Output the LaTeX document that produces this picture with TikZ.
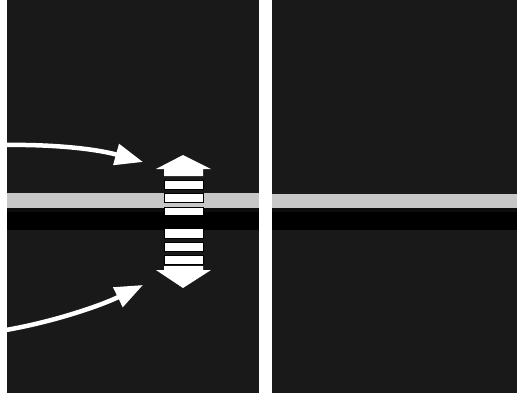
\documentclass[tikz,border=0pt]{standalone}
\usetikzlibrary{arrows.meta}
\begin{document}
\begin{tikzpicture}[x=1pt, y=-1pt,
        panel/.style={fill=black!90},
        lightband/.style={fill=black!22},
        darkband/.style={fill=black},
        seg/.style={fill=white, draw=black, line width=0.6pt},
        pointer/.style={draw=white, line width=4.5pt, -{Triangle[length=28pt, width=21pt]}}]
        \useasboundingbox (0,0) rectangle (517,394);
        \fill[white] (0,0) rectangle (517,394);

        \fill[panel] (7,0) rectangle (259,393);
        \fill[panel] (272,0) rectangle (517,393);

        \fill[lightband] (7,193) rectangle (259,208);
        \fill[lightband] (272,194) rectangle (517,208);
        \fill[black!95] (7,208) rectangle (259,212);
        \fill[black!95] (272,208) rectangle (517,212);
        \fill[darkband] (7,212) rectangle (259,230);
        \fill[darkband] (272,212) rectangle (517,230);

        % double arrow
        \fill[white] (183,155) -- (211,169) -- (203,169) -- (203,176) -- (164,176) -- (164,169) -- (156,169) -- cycle;
        \foreach \ya/\yb in {180/189, 193/202, 207/215, 228/238, 242/251, 255/264}
            \draw[seg] (164,\ya) rectangle (203,\yb);
        \fill[white] (164,266) -- (203,266) -- (203,270) -- (211,270) -- (183,288) -- (156,270) -- (164,270) -- cycle;

        \coordinate (outA) at (0,145);
        \coordinate (tipA) at (143,162);
        \coordinate (outB) at (0,331);
        \coordinate (tipB) at (143,285);
        \draw[pointer] (outA) .. controls (60,144) and (100,150) .. (tipA);
        \draw[pointer] (outB) .. controls (50,323) and (100,306) .. (tipB);
\end{tikzpicture}
\end{document}
